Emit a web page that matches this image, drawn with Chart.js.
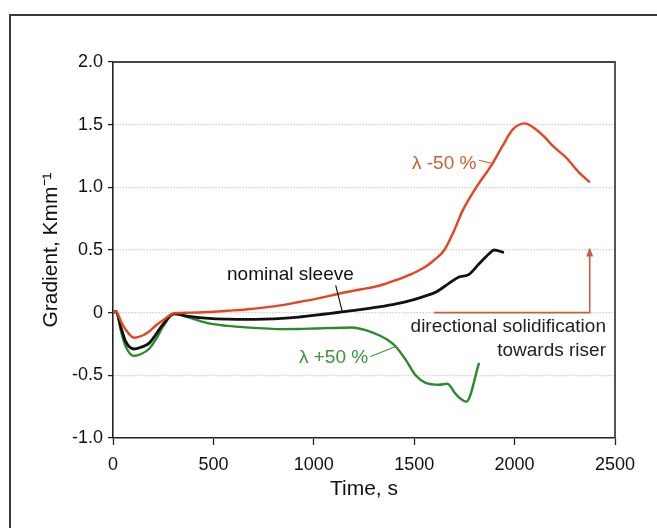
<!DOCTYPE html>
<html>
<head>
<meta charset="utf-8">
<script src="https://cdn.jsdelivr.net/npm/chart.js@4/dist/chart.umd.min.js"></script>
<style>
  html, body { margin: 0; padding: 0; background: #fff; }
  #wrap { width: 657px; height: 528px; position: relative; }
</style>
</head>
<body>
<div id="wrap"><canvas id="grafico"></canvas></div>
<script>
// tiempos (s) y gradientes (K/mm)
const tiempoMenos = [0, 15, 40, 65, 105, 150, 180, 215, 250, 304, 380, 478, 570, 661, 750, 842, 925, 1009, 1140, 1230, 1325, 1410, 1489, 1550, 1600, 1650, 1700, 1740, 1805, 1890, 1940, 1990, 2050, 2100, 2150, 2190, 2255, 2320, 2375];
const gradMenos  = [0, 0.01, -0.07, -0.14, -0.20, -0.18, -0.15, -0.10, -0.06, -0.005, 0, 0.005, 0.015, 0.025, 0.04, 0.06, 0.085, 0.11, 0.157, 0.185, 0.215, 0.26, 0.31, 0.36, 0.42, 0.50, 0.66, 0.81, 0.99, 1.19, 1.33, 1.46, 1.51, 1.47, 1.40, 1.33, 1.24, 1.12, 1.04];

const tiempoNominal = [0, 15, 40, 63, 105, 140, 179, 215, 246, 304, 380, 478, 570, 661, 750, 842, 925, 1009, 1075, 1140, 1230, 1325, 1410, 1489, 1550, 1609, 1673, 1723, 1773, 1823, 1873, 1897, 1947];
const gradNominal   = [0, 0.01, -0.12, -0.23, -0.29, -0.275, -0.245, -0.17, -0.10, -0.01, -0.03, -0.046, -0.052, -0.054, -0.052, -0.046, -0.035, -0.02, -0.007, 0.006, 0.024, 0.046, 0.07, 0.10, 0.13, 0.165, 0.234, 0.284, 0.305, 0.39, 0.47, 0.50, 0.48];

const tiempoMas = [0, 15, 40, 63, 105, 140, 179, 215, 246, 304, 380, 478, 570, 661, 750, 842, 925, 1009, 1100, 1190, 1258, 1325, 1370, 1408, 1458, 1507, 1557, 1624, 1665, 1707, 1760, 1823];
const gradMas    = [0, 0.01, -0.15, -0.27, -0.345, -0.33, -0.29, -0.21, -0.12, -0.01, -0.04, -0.086, -0.105, -0.117, -0.125, -0.131, -0.13, -0.126, -0.122, -0.118, -0.139, -0.18, -0.22, -0.27, -0.377, -0.50, -0.56, -0.575, -0.567, -0.65, -0.71, -0.40];

const xTicks = [0, 500, 1000, 1500, 2000, 2500];
const xTickLabels = ['0', '500', '1000', '1500', '2000', '2500'];
const yTicks = [-1, -0.5, 0, 0.5, 1, 1.5, 2];
const yTickLabels = ['-1.0', '-0.5', '0', '0.5', '1.0', '1.5', '2.0'];

// textos y lineas guia (coordenadas en unidades de los datos)
const notas = [
    { texto: 'λ -50 %', x: 1489, y: 1.19, color: '#c8602f', align: 'left' },
    { texto: 'nominal sleeve', x: 568, y: 0.30, color: '#111', align: 'left' },
    { texto: 'λ +50 %', x: 926, y: -0.36, color: '#3a953a', align: 'left' },
    { texto: 'directional solidification', x: 2455, y: -0.113, color: '#222', align: 'right' },
    { texto: 'towards riser', x: 2455, y: -0.30, color: '#222', align: 'right' }
];
const guias = [
    { x1: 1823, y1: 1.216, x2: 1889, y2: 1.19, color: '#c8602f' },
    { x1: 1109, y1: 0.218, x2: 1142, y2: 0.006, color: '#111' },
    { x1: 1283, y1: -0.35, x2: 1408, y2: -0.27, color: '#3a953a' }
];
const flecha = { x1: 1599, xEsquina: 2374, y0: 0, yPunta: 0.52, color: '#c5603c' };

const fuente = 'Liberation Sans, Arial, sans-serif';

function serie(tiempos, valores) {
    return tiempos.map((t, i) => ({ x: t, y: valores[i] }));
}

const marco = {
    id: 'marco',
    beforeDraw(chart) {
        const ctx = chart.ctx;
        ctx.save();
        ctx.fillStyle = '#fff';
        ctx.fillRect(0, 0, chart.width, chart.height);
        ctx.restore();
    },
    beforeDatasetsDraw(chart) {
        const { ctx, scales: { x, y } } = chart;
        // flecha de solidificacion direccional
        ctx.save();
        ctx.strokeStyle = flecha.color;
        ctx.fillStyle = flecha.color;
        ctx.lineWidth = 1.6;
        const xa = x.getPixelForValue(flecha.x1);
        const xb = x.getPixelForValue(flecha.xEsquina);
        const ya = y.getPixelForValue(flecha.y0);
        const yb = y.getPixelForValue(flecha.yPunta);
        ctx.beginPath();
        ctx.moveTo(xa, ya);
        ctx.lineTo(xb, ya);
        ctx.lineTo(xb, yb + 7);
        ctx.stroke();
        ctx.beginPath();
        ctx.moveTo(xb, yb);
        ctx.lineTo(xb - 3.5, yb + 9);
        ctx.lineTo(xb + 3.5, yb + 9);
        ctx.closePath();
        ctx.fill();
        ctx.restore();
    },
    afterDraw(chart) {
        const { ctx, chartArea: a, scales: { x, y } } = chart;
        ctx.save();
        // marco exterior de la figura
        ctx.strokeStyle = '#3a3a3a';
        ctx.lineWidth = 2;
        ctx.beginPath();
        ctx.moveTo(10, chart.height);
        ctx.lineTo(10, 15);
        ctx.lineTo(chart.width, 15);
        ctx.stroke();
        // lados superior y derecho del area
        ctx.strokeStyle = '#444';
        ctx.lineWidth = 1.8;
        ctx.beginPath();
        ctx.moveTo(a.left, a.top);
        ctx.lineTo(a.right, a.top);
        ctx.lineTo(a.right, a.bottom);
        ctx.stroke();

        guias.forEach(g => {
            ctx.strokeStyle = g.color;
            ctx.lineWidth = 1.2;
            ctx.beginPath();
            ctx.moveTo(x.getPixelForValue(g.x1), y.getPixelForValue(g.y1));
            ctx.lineTo(x.getPixelForValue(g.x2), y.getPixelForValue(g.y2));
            ctx.stroke();
        });

        ctx.font = '19px ' + fuente;
        ctx.textBaseline = 'middle';
        notas.forEach(n => {
            ctx.fillStyle = n.color;
            ctx.textAlign = n.align;
            ctx.fillText(n.texto, x.getPixelForValue(n.x), y.getPixelForValue(n.y));
        });
        ctx.restore();
    }
};

const ctx = document.getElementById('grafico').getContext('2d');
new Chart(ctx, {
    type: 'line',
    data: {
        datasets: [
            { label: 'λ -50 %', data: serie(tiempoMenos, gradMenos), borderColor: '#e6441f', borderWidth: 2.4 },
            { label: 'nominal sleeve', data: serie(tiempoNominal, gradNominal), borderColor: '#111', borderWidth: 2.8 },
            { label: 'λ +50 %', data: serie(tiempoMas, gradMas), borderColor: '#2b8a2b', borderWidth: 2.4 }
        ]
    },
    options: {
        responsive: true,
        maintainAspectRatio: false,
        animation: false,
        parsing: false,
        elements: {
            point: { radius: 0 },
            line: { cubicInterpolationMode: 'monotone', fill: false }
        },
        layout: { padding: { top: 62, right: 42, left: 0, bottom: 0 } },
        plugins: { legend: { display: false }, tooltip: { enabled: false } },
        scales: {
            x: {
                type: 'linear',
                min: 0,
                max: 2500,
                afterBuildTicks: s => { s.ticks = xTicks.map(v => ({ value: v })); },
                afterFit: s => { s.height = 90; },
                grid: { drawOnChartArea: false, drawTicks: true, tickLength: 7, tickColor: '#222', tickWidth: 1.3 },
                border: { color: '#222', width: 1.6 },
                ticks: {
                    color: '#111',
                    font: { family: fuente, size: 18 },
                    padding: 9,
                    maxRotation: 0,
                    callback: v => xTickLabels[xTicks.indexOf(v)] ?? ''
                },
                title: { display: true, text: 'Time, s', color: '#111', font: { family: fuente, size: 21 }, padding: { top: 0, bottom: 26 } }
            },
            y: {
                type: 'linear',
                min: -1,
                max: 2,
                afterBuildTicks: s => { s.ticks = yTicks.map(v => ({ value: v })); },
                afterFit: s => { s.width = 113; },
                grid: {
                    color: c => (c.tick && (c.tick.value === 2 || c.tick.value === -1)) ? 'rgba(0,0,0,0)' : '#b5b5b5',
                    lineWidth: 1.2,
                    drawTicks: true,
                    tickLength: 5,
                    tickColor: '#222',
                    tickWidth: 1.3
                },
                border: { color: '#222', width: 1.6, dash: [1, 2] },
                ticks: {
                    color: '#111',
                    font: { family: fuente, size: 18 },
                    padding: 5,
                    callback: v => yTickLabels[yTicks.indexOf(v)] ?? ''
                },
                title: { display: true, text: 'Gradient, Kmm⁻¹', color: '#111', font: { family: fuente, size: 21 }, padding: { top: 39, bottom: 0 } }
            }
        }
    },
    plugins: [marco]
});
</script>
</body>
</html>
